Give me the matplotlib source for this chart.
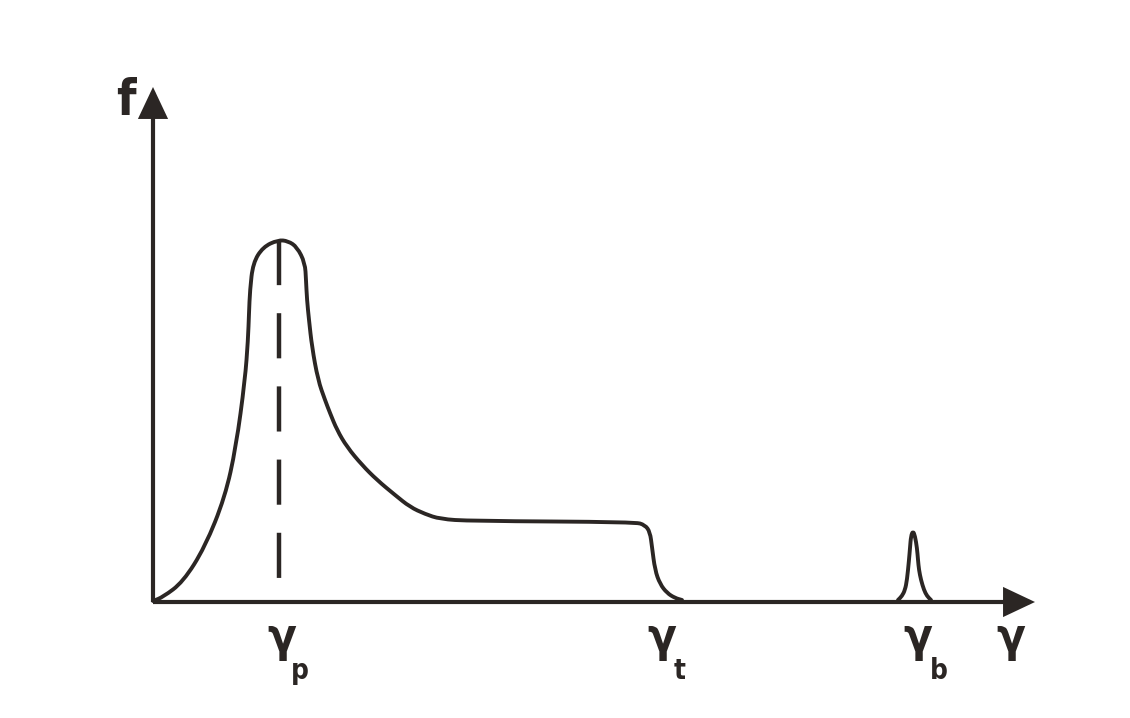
import matplotlib
matplotlib.use("Agg")
import matplotlib.pyplot as plt
from matplotlib.patches import FancyArrowPatch, PathPatch
from matplotlib.path import Path

plt.rcParams['lines.scale_dashes'] = False

# ---- data (gamma, f) in schematic units, origin at axis crossing ----
main_gamma = [0, 10, 30, 52, 72, 83, 92, 95, 96, 97, 100, 110, 125, 135, 144,
              152, 153, 154, 156, 159, 165, 172, 177, 184, 194, 209, 224, 242,
              257, 272, 287, 317, 482, 492, 497, 499, 502, 507, 514, 522, 529]
main_f = [1, 5, 20, 55, 105, 155, 222, 262, 289, 312, 339, 355, 362, 361, 355,
          339, 322, 302, 282, 255, 222, 202, 189, 172, 155, 137, 122, 107,
          95, 88, 83, 81, 80, 77, 70, 55, 32, 18, 9, 4, 2]

bump_gamma = [745, 749, 752, 754, 756, 757, 758, 760, 762, 764, 765, 766,
              768, 771, 774, 778]
bump_f = [2, 6, 12, 22, 42, 54, 66, 71, 66, 54, 42, 32, 22, 12, 6, 2]

peak_gamma = 126
peak_top = 362
peak_bottom = 22

tick_pos = [131, 511, 767]
tick_sub = ['p', 't', 'b']
axis_label_x = 'γ'
axis_label_y = 'f'

col = '#2b2624'


def smooth_patch(xs, ys, **kw):
    pts = list(zip(xs, ys))
    verts = [pts[0]]
    codes = [Path.MOVETO]
    mid = lambda a, b: ((a[0] + b[0]) / 2, (a[1] + b[1]) / 2)
    verts.append(mid(pts[0], pts[1]))
    codes.append(Path.LINETO)
    for i in range(1, len(pts) - 1):
        verts += [pts[i], mid(pts[i], pts[i + 1])]
        codes += [Path.CURVE3, Path.CURVE3]
    verts.append(pts[-1])
    codes.append(Path.LINETO)
    return PathPatch(Path(verts, codes), fill=False, **kw)


fig = plt.figure(figsize=(11.30, 7.18), dpi=100)
ax = fig.add_axes([0, 0, 1, 1])
ax.set_xlim(-153, 977)
ax.set_ylim(-116, 602)
ax.axis('off')

# axes with arrow heads
for (p0, p1) in [((0, 0), (882, 0)), ((0, 0), (0, 515))]:
    arr = FancyArrowPatch(p0, p1, arrowstyle='-|>,head_length=18,head_width=8.5',
                          mutation_scale=1, shrinkA=0, shrinkB=0,
                          color=col, lw=3.0, joinstyle='miter', capstyle='butt')
    ax.add_patch(arr)

ax.add_patch(smooth_patch(main_gamma, main_f, edgecolor=col, lw=2.8,
                          joinstyle='round', capstyle='round'))
ax.add_patch(smooth_patch(bump_gamma, bump_f, edgecolor=col, lw=2.8,
                          joinstyle='round', capstyle='round'))
ax.plot([peak_gamma, peak_gamma], [peak_top, peak_bottom], color=col, lw=3.2,
        linestyle=(0, (32.5, 20.2)), dash_capstyle='butt')

fk = dict(family='DejaVu Sans', stretch='condensed', weight='bold', color=col)
sub_dx = [16, 16, 19]
for x, s, dx in zip(tick_pos, tick_sub, sub_dx):
    ax.text(x - 2, -49, 'γ', ha='center', va='baseline', fontsize=34, **fk)
    ax.text(x + dx, -77, s, ha='center', va='baseline', fontsize=20, **fk)
ax.text(858, -49, axis_label_x, ha='center', va='baseline', fontsize=34, **fk)
ax.text(-27, 487, axis_label_y, ha='center', va='baseline', fontsize=36, **fk)

fig.savefig('out.png', dpi=100, facecolor='white')
